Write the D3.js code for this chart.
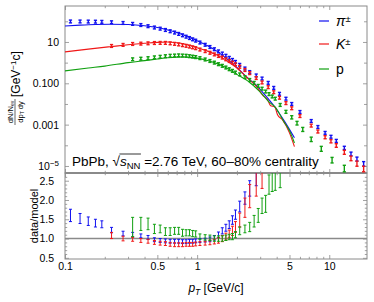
<!DOCTYPE html>
<html>
<head>
<meta charset="UTF-8">
<script src="https://d3js.org/d3.v7.min.js"></script>
<style>
  body { margin: 0; background: #fff; }
  text { font-family: "Liberation Sans", Arial, sans-serif; }
</style>
</head>
<body>
<svg id="chart" width="374" height="302"></svg>
<script>
// ---- data ----
const piPt = [0.11,0.13,0.15,0.17,0.19,0.225,0.275,0.325,0.375,0.425,0.475,0.525,0.575,0.625,0.675,0.725,0.775,0.825,0.875,0.925,0.975,
  1.05,1.15,1.25,1.35,1.45,1.55,1.65,1.75,1.85,1.95,2.1,2.3,2.5,2.8,3.1,3.45,3.8,4.2,4.7,5.2,6,7.3,8.2,9.3,10.3,11.3,13,14.6,16.2,18.2];
const piSpec = [98,98,97,96,94,90,83,75,66,58,50,44,38,33,28.5,24.5,21,18,15.5,13.4,11.6,
  9.4,7.3,5.7,4.45,3.5,2.75,2.15,1.7,1.35,1.08,0.78,0.52,0.35,0.24,0.17,0.105,0.06,0.031,0.018,0.01,0.0041,
  0.0015,0.00077,0.0004,0.00026,0.000165,0.000076,0.000039,0.000022,0.000013];
const piSpecErr = [0.05,0.05,0.05,0.05,0.05,0.05,0.05,0.05,0.05,0.05,0.05,0.05,0.05,0.05,0.05,0.05,0.05,0.05,0.05,0.05,0.05,
  0.05,0.05,0.05,0.05,0.05,0.05,0.05,0.05,0.05,0.05,0.06,0.06,0.07,0.07,0.08,0.08,0.09,0.1,0.1,0.11,0.12,
  0.12,0.13,0.14,0.15,0.16,0.18,0.2,0.22,0.25];
const piRatio = [1.6,1.52,1.45,1.4,1.37,1.22,1.13,1.1,1.07,1.03,0.97,0.95,0.94,0.93,0.93,0.93,0.92,0.92,0.93,0.93,0.94,
  0.95,0.96,0.98,1.02,1.1,1.2,1.28,1.36,1.48,1.62,1.83,2.05,2.3,2.62];
const piRatioErr = [0.16,0.13,0.11,0.1,0.09,0.07,0.06,0.06,0.05,0.05,0.05,0.05,0.05,0.05,0.05,0.05,0.05,0.05,0.05,0.05,0.05,
  0.05,0.05,0.06,0.06,0.07,0.08,0.09,0.1,0.11,0.12,0.14,0.16,0.2,0.25];
const piModelPt = [0.1,0.13,0.17,0.22,0.3,0.4,0.5,0.6,0.7,0.85,1.0,1.2,1.4,1.6,1.8,2.0,2.25,2.5,2.83,3.25,3.86,4.6,5.45];
const piModel = [59,65,70,72,70,61,50,38,28.5,18,11.6,6.6,3.7,1.95,1.05,0.58,0.28,0.15,0.075,0.028,0.0073,0.0014,0.00023];

const kPt = [0.225,0.275,0.325,0.375,0.425,0.475,0.525,0.575,0.625,0.675,0.725,0.775,0.825,0.875,0.925,0.975,
  1.05,1.15,1.25,1.35,1.45,1.55,1.65,1.75,1.85,1.95,2.1,2.3,2.5,2.8,3.1,3.45,3.8,4.2,4.7,5.2,6,7.3,8.2,9.3,10.3,11.3,13,14.6,16.2,18.2];
const kSpec = [6.4,7.2,8.0,8.3,8.6,8.9,9.0,9.0,8.6,8.1,7.6,7.0,6.5,6.0,5.5,5.0,
  4.3,3.6,3.0,2.5,2.1,1.75,1.45,1.2,1.0,0.83,0.63,0.44,0.31,0.18,0.11,0.065,0.037,0.02,0.011,0.0062,0.0026,
  0.0009,0.00047,0.00025,0.00016,0.0001,0.000047,0.000024,0.0000135,0.0000075];
const kSpecErr = [0.05,0.05,0.05,0.05,0.05,0.05,0.05,0.05,0.05,0.05,0.05,0.05,0.05,0.05,0.05,0.05,
  0.05,0.05,0.05,0.05,0.05,0.05,0.06,0.06,0.06,0.07,0.07,0.08,0.08,0.09,0.1,0.1,0.11,0.12,0.12,0.13,0.14,
  0.15,0.16,0.17,0.18,0.2,0.22,0.25,0.28,0.3];
const kRatio = [1.08,1.0,0.98,0.95,0.93,0.9,0.88,0.87,0.85,0.84,0.84,0.84,0.85,0.85,0.85,0.86,
  0.87,0.88,0.9,0.92,0.95,1.0,1.05,1.12,1.2,1.3,1.48,1.8,2.1,2.45,2.7];
const kRatioErr = [0.08,0.06,0.05,0.05,0.05,0.05,0.05,0.05,0.05,0.05,0.05,0.05,0.05,0.05,0.05,0.05,
  0.05,0.05,0.06,0.06,0.07,0.08,0.09,0.1,0.12,0.14,0.18,0.25,0.3,0.35,0.4];
const kModelPt = [0.1,0.15,0.22,0.3,0.4,0.5,0.6,0.7,0.8,1.0,1.2,1.4,1.6,1.8,2.0,2.25,2.5,2.83,3.13,3.42,3.6,3.86,4.06,4.43,5.0,5.45];
const kModel = [3.3,4.5,5.9,7.3,8.6,9.6,10.0,9.2,8.0,5.2,3.6,2.4,1.52,0.9,0.55,0.27,0.143,0.067,0.027,0.0157,0.0081,0.0073,0.003,0.0017,0.0004,0.000086];

const pPt = [0.325,0.375,0.425,0.475,0.525,0.575,0.625,0.675,0.725,0.775,0.825,0.875,0.925,0.975,
  1.05,1.15,1.25,1.35,1.45,1.55,1.65,1.75,1.85,1.95,2.1,2.3,2.5,2.7,2.9,3.1,3.3,3.5,3.7,3.9,
  4.25,4.7,5.2,5.7,6.3,7.3,8.7,10.5,13];
const pSpec = [1.45,1.55,1.65,1.8,1.92,2.05,2.15,2.2,2.25,2.2,2.15,2.05,1.95,1.85,
  1.65,1.42,1.2,1.0,0.84,0.7,0.58,0.48,0.4,0.33,0.27,0.2,0.145,0.105,0.075,0.055,0.04,0.03,0.023,0.018,
  0.009,0.0042,0.0023,0.0012,0.0006,0.0002,0.00007,0.00002,0.000008];
const pSpecErr = [0.06,0.06,0.06,0.06,0.06,0.06,0.06,0.06,0.06,0.06,0.06,0.06,0.06,0.06,
  0.06,0.06,0.06,0.06,0.06,0.06,0.06,0.07,0.07,0.07,0.08,0.08,0.09,0.1,0.1,0.11,0.12,0.12,0.13,0.14,
  0.15,0.16,0.18,0.2,0.22,0.24,0.27,0.3,0.35];
const pRatio = [1.3,1.38,1.38,1.25,1.25,1.18,1.18,1.2,1.2,1.15,1.15,1.15,1.13,1.12,
  1.05,1.03,1.02,1.0,1.0,1.0,1.02,1.04,1.05,1.1,1.2,1.25,1.3,1.45,1.6,1.85,1.9,2.4,2.5,2.55,2.62];
const pRatioErr = [0.25,0.17,0.15,0.12,0.1,0.1,0.1,0.09,0.09,0.09,0.08,0.08,0.08,0.08,
  0.07,0.07,0.07,0.07,0.07,0.07,0.07,0.07,0.08,0.08,0.1,0.1,0.12,0.15,0.18,0.2,0.22,0.25,0.28,0.3,0.3];
const pModelPt = [0.1,0.15,0.2,0.3,0.4,0.5,0.6,0.7,0.8,0.9,1.0,1.2,1.4,1.6,1.8,2.0,2.3,2.5,2.7,2.9,3.1,3.5,3.9,4.5,5.0,5.45];
const pModel = [0.4,0.55,0.68,1.0,1.25,1.5,1.72,1.85,1.88,1.8,1.65,1.27,0.92,0.63,0.42,0.27,0.16,0.11,0.072,0.047,0.03,0.0125,0.007,0.0015,0.0005,0.00013];

const xMajor = [0.1,0.5,1,5,10];
const xMinor = [0.2,0.3,0.4,0.6,0.7,0.8,0.9,2,3,4,6,7,8,9];
const yTopMajor = [1e-5,1e-3,0.1,10];
const yTopMinor = [1e-4,1e-2,1,100];
const yBotMajor = [0.5,1.0,1.5,2.0,2.5];
const yBotMinor = [0.6,0.7,0.8,0.9,1.1,1.2,1.3,1.4,1.6,1.7,1.8,1.9,2.1,2.2,2.3,2.4,2.6];

const species = [
  {name: "pi", color: "#1010f0", pt: piPt, spec: piSpec, specErr: piSpecErr, ratio: piRatio, ratioErr: piRatioErr, mpt: piModelPt, model: piModel},
  {name: "K", color: "#f01818", pt: kPt, spec: kSpec, specErr: kSpecErr, ratio: kRatio, ratioErr: kRatioErr, mpt: kModelPt, model: kModel},
  {name: "p", color: "#10a010", pt: pPt, spec: pSpec, specErr: pSpecErr, ratio: pRatio, ratioErr: pRatioErr, mpt: pModelPt, model: pModel}
];

// ---- layout ----
const L = 65, R = 367, T1 = 6, B1 = 173, T2 = 173, B2 = 259;
const frameCol = "#8a8a8a";

const svg = d3.select("#chart");
svg.append("rect").attr("width", 374).attr("height", 302).attr("fill", "#fff");

const x = d3.scaleLog().domain([0.1, 19.3]).range([L, R]);
const yTop = d3.scaleLog().domain([Math.pow(10, -5.34), Math.pow(10, 2.74)]).range([B1, T1]);
const yBot = d3.scaleLinear().domain([0.47, 2.7]).range([B2, T2]);

const defs = svg.append("defs");
defs.append("clipPath").attr("id", "clipTop").append("rect")
  .attr("x", L).attr("y", T1).attr("width", R - L).attr("height", B1 - T1);
defs.append("clipPath").attr("id", "clipBot").append("rect")
  .attr("x", L).attr("y", T2).attr("width", R - L).attr("height", B2 - T2);

// ticks helper: inward ticks, no domain path
function tickAxis(axisFn, scale, vals, size) {
  return axisFn(scale).tickValues(vals).tickSize(-size).tickFormat(() => "");
}
function styleAxis(g) {
  g.select(".domain").remove();
  g.selectAll(".tick line").attr("stroke", frameCol).attr("stroke-width", 0.8);
  g.selectAll(".tick text").attr("fill", "#000").style("font-size", "10.5px")
    .style("font-family", '"Liberation Sans", Arial, sans-serif');
}

// x ticks on both panels
[[B1, d3.axisBottom], [T1, d3.axisTop], [B2, d3.axisBottom], [T2, d3.axisTop]].forEach(([yy, fn]) => {
  svg.append("g").attr("transform", `translate(0,${yy})`).call(tickAxis(fn, x, xMajor, 4)).call(styleAxis);
  svg.append("g").attr("transform", `translate(0,${yy})`).call(tickAxis(fn, x, xMinor, 2.2)).call(styleAxis);
});
// bottom labels
const xFmt = d => ({0.1: "0.1", 0.5: "0.5", 1: "1", 5: "5", 10: "10"})[d];
svg.append("g").attr("transform", `translate(0,${B2})`)
  .call(d3.axisBottom(x).tickValues(xMajor).tickSize(0).tickPadding(3.5).tickFormat(xFmt))
  .call(styleAxis);

// top panel y ticks
svg.append("g").attr("transform", `translate(${L},0)`).call(tickAxis(d3.axisLeft, yTop, yTopMajor, 4)).call(styleAxis);
svg.append("g").attr("transform", `translate(${L},0)`).call(tickAxis(d3.axisLeft, yTop, yTopMinor, 3)).call(styleAxis);
svg.append("g").attr("transform", `translate(${R},0)`).call(tickAxis(d3.axisRight, yTop, yTopMajor, 4)).call(styleAxis);
svg.append("g").attr("transform", `translate(${R},0)`).call(tickAxis(d3.axisRight, yTop, yTopMinor, 3)).call(styleAxis);
const yTopLab = svg.append("g").attr("transform", `translate(${L},0)`)
  .call(d3.axisLeft(yTop).tickValues(yTopMajor).tickSize(0).tickPadding(6)
    .tickFormat(d => d === 10 ? "10" : d === 0.1 ? "0.100" : d === 1e-3 ? "0.001" : ""))
  .call(styleAxis);
// 10^-5 label with superscript
yTopLab.selectAll(".tick").filter(d => d === 1e-5).select("text")
  .call(t => { t.append("tspan").text("10"); t.append("tspan").attr("dy", "-0.45em").style("font-size", "8px").text("−5"); });

// bottom panel y ticks
svg.append("g").attr("transform", `translate(${L},0)`).call(tickAxis(d3.axisLeft, yBot, yBotMajor, 4)).call(styleAxis);
svg.append("g").attr("transform", `translate(${L},0)`).call(tickAxis(d3.axisLeft, yBot, yBotMinor, 2.2)).call(styleAxis);
svg.append("g").attr("transform", `translate(${R},0)`).call(tickAxis(d3.axisRight, yBot, yBotMajor, 4)).call(styleAxis);
svg.append("g").attr("transform", `translate(${R},0)`).call(tickAxis(d3.axisRight, yBot, yBotMinor, 2.2)).call(styleAxis);
svg.append("g").attr("transform", `translate(${L},0)`)
  .call(d3.axisLeft(yBot).tickValues(yBotMajor).tickSize(0).tickPadding(11).tickFormat(d3.format(".1f")))
  .call(styleAxis);

// frames
svg.append("rect").attr("x", L).attr("y", T1).attr("width", R - L).attr("height", B1 - T1)
  .attr("fill", "none").attr("stroke", frameCol).attr("stroke-width", 1);
svg.append("rect").attr("x", L).attr("y", T2).attr("width", R - L).attr("height", B2 - T2)
  .attr("fill", "none").attr("stroke", frameCol).attr("stroke-width", 1);
svg.append("line").attr("x1", L).attr("x2", R).attr("y1", T2).attr("y2", T2)
  .attr("stroke", frameCol).attr("stroke-width", 2.2);
svg.append("line").attr("x1", L).attr("x2", R).attr("y1", yBot(1)).attr("y2", yBot(1))
  .attr("stroke", frameCol).attr("stroke-width", 1.6);

// ---- top panel: model lines + data ----
const gTop = svg.append("g").attr("clip-path", "url(#clipTop)");
const line = d3.line().x(d => x(d[0])).y(d => yTop(d[1])).curve(d3.curveMonotoneX);

function errGlyph(g, rows, ys, color, capW, lw, minHalf) {
  const gg = g.append("g").attr("stroke", color).attr("stroke-width", lw);
  rows.forEach(r => {
    const cx = x(r.pt), cy = ys(r.v);
    const y1 = Math.max(ys(r.lo), cy + minHalf), y2 = Math.min(ys(r.hi), cy - minHalf);
    gg.append("line").attr("x1", cx).attr("x2", cx).attr("y1", y1).attr("y2", y2);
    gg.append("line").attr("x1", cx - capW / 2).attr("x2", cx + capW / 2).attr("y1", y1).attr("y2", y1);
    gg.append("line").attr("x1", cx - capW / 2).attr("x2", cx + capW / 2).attr("y1", y2).attr("y2", y2);
  });
}

species.forEach(s => {
  gTop.append("path").datum(s.mpt.map((p, i) => [p, s.model[i]]))
    .attr("fill", "none").attr("stroke", s.color).attr("stroke-width", 1.1).attr("d", line);
});
species.forEach(s => {
  const rows = s.pt.map((p, i) => ({pt: p, v: s.spec[i], lo: s.spec[i] * (1 - s.specErr[i]), hi: s.spec[i] * (1 + s.specErr[i])}));
  errGlyph(gTop, rows, yTop, s.color, 3.2, 1.4, 1.4);
});

// ---- bottom panel: ratios ----
const gBot = svg.append("g").attr("clip-path", "url(#clipBot)");
species.forEach(s => {
  const rows = s.ratio.map((v, i) => ({pt: s.pt[i], v: v, lo: v - s.ratioErr[i], hi: v + s.ratioErr[i]}));
  errGlyph(gBot, rows, yBot, s.color, 3, 1, 1);
});

// ---- legend ----
const legend = [
  {color: species[0].color, main: "π", sup: "±", italic: true, y: 21},
  {color: species[1].color, main: "K", sup: "±", italic: true, y: 44},
  {color: species[2].color, main: "p", sup: "", italic: false, y: 69}
];
legend.forEach(d => {
  svg.append("line").attr("x1", 319).attr("x2", 329).attr("y1", d.y).attr("y2", d.y)
    .attr("stroke", d.color).attr("stroke-width", 1.2);
  const t = svg.append("text").attr("x", 336).attr("y", d.y + 5).style("font-size", "14px");
  t.append("tspan").style("font-style", d.italic ? "italic" : "normal").text(d.main);
  if (d.sup) t.append("tspan").attr("dy", "-0.45em").style("font-size", "9.5px").text(d.sup);
});

// ---- annotation ----
const ann = svg.append("text").attr("x", 72).attr("y", 166).style("font-size", "13.5px");
ann.append("tspan").text("PbPb, √");
ann.append("tspan").style("font-style", "italic").text("s");
ann.append("tspan").attr("dy", 2.5).style("font-size", "9.5px").text("NN");
ann.append("tspan").attr("dy", -2.5).text(" =2.76 TeV, 60–80% centrality");
const n = ann.node();
const ox1 = n.getStartPositionOfChar(7).x, ox2 = n.getEndPositionOfChar(9).x;
svg.append("line").attr("x1", ox1 - 0.5).attr("x2", ox2 + 0.5).attr("y1", 154).attr("y2", 154)
  .attr("stroke", "#000").attr("stroke-width", 0.8);

// ---- axis titles ----
const xt = svg.append("text").attr("x", 216).attr("y", 292).attr("text-anchor", "middle").style("font-size", "12px");
xt.append("tspan").style("font-style", "italic").text("p");
xt.append("tspan").attr("dy", 3).style("font-size", "8.5px").style("font-style", "italic").text("T");
xt.append("tspan").attr("dy", -3).text(" [GeV/c]");

svg.append("text").attr("transform", "translate(38,216) rotate(-90)").attr("text-anchor", "middle")
  .style("font-size", "11px").text("data/model");

const yt = svg.append("g").attr("transform", "rotate(-90)");
const fcx = -112;
const num = yt.append("text").attr("x", fcx).attr("y", 12.5).attr("text-anchor", "middle").style("font-size", "7.5px");
num.append("tspan").text("dN/N");
num.append("tspan").attr("dy", 1.5).style("font-size", "5px").text("ev");
const den = yt.append("text").attr("x", fcx).attr("y", 22.5).attr("text-anchor", "middle").style("font-size", "7.5px");
den.append("tspan").text("dp");
den.append("tspan").attr("dy", 1.5).style("font-size", "5px").text("T");
den.append("tspan").attr("dy", -1.5).text(" dy");
yt.append("line").attr("x1", fcx - 13).attr("x2", fcx + 13).attr("y1", 15).attr("y2", 15)
  .attr("stroke", "#000").attr("stroke-width", 0.6);
const unit = yt.append("text").attr("x", fcx + 15).attr("y", 19.5).style("font-size", "12px");
unit.append("tspan").text("[GeV");
unit.append("tspan").attr("dy", -4).style("font-size", "8px").text("−1");
unit.append("tspan").attr("dy", 4).text("c]");
</script>
</body>
</html>
